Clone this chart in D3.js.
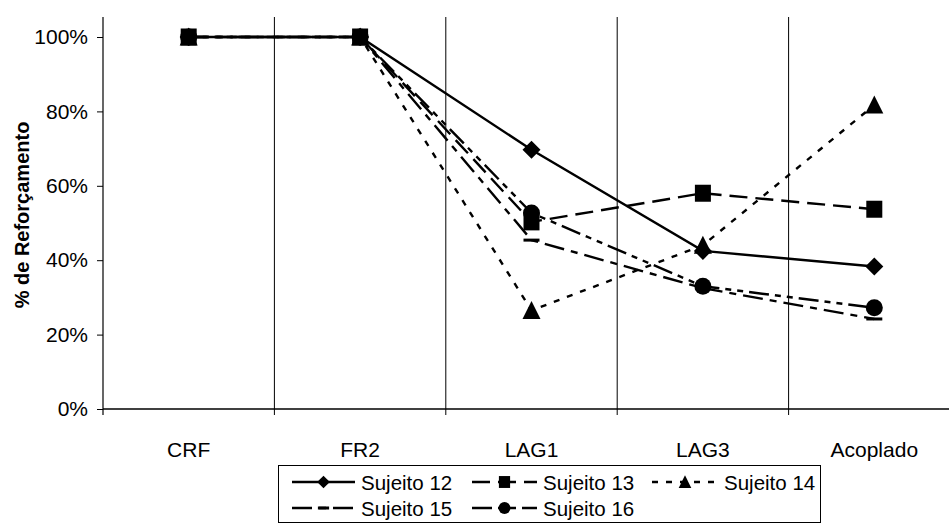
<!DOCTYPE html>
<html>
<head>
<meta charset="utf-8">
<script src="https://cdn.jsdelivr.net/npm/d3@7"></script>
<style>
  body { margin: 0; background: #fff; }
  svg { display: block; font-family: "Liberation Sans", Arial, sans-serif; }
  .tick text { font-size: 21px; fill: #000; }
</style>
</head>
<body>
<svg id="chart" width="949" height="525"></svg>
<script>
const categories = ['CRF', 'FR2', 'LAG1', 'LAG3', 'Acoplado']
const yTicks = [0, 0.2, 0.4, 0.6, 0.8, 1]

// % de reforçamento por sujeito
const sujeito12 = [1.00, 1.00, 0.697, 0.425, 0.383]
const sujeito13 = [1.00, 1.00, 0.503, 0.580, 0.537]
const sujeito14 = [1.00, 1.00, 0.265, 0.440, 0.817]
const sujeito15 = [1.00, 1.00, 0.454, 0.325, 0.242]
const sujeito16 = [1.00, 1.00, 0.527, 0.330, 0.272]

const seriesNames = ['Sujeito 12', 'Sujeito 13', 'Sujeito 14', 'Sujeito 15', 'Sujeito 16']
const seriesValues = [sujeito12, sujeito13, sujeito14, sujeito15, sujeito16]

const styles = [
  { dash: null, marker: 'diamond' },
  { dash: '18,8', marker: 'square' },
  { dash: '6,8', marker: 'triangle' },
  { dash: '20,7,7,7', marker: 'dash' },
  { dash: '20,6,6,6,6,6', marker: 'circle' }
]

const svg = d3.select('#chart')
const plotTop = 17, plotBottom = 409, plotLeft = 103

const x = d3.scaleBand().domain(categories).range([plotLeft, 960])
const y = d3.scaleLinear().domain([0, 1]).range([plotBottom, 37])
const cx = c => x(c) + x.bandwidth() / 2

// vertical separators between categories
svg.selectAll('line.grid')
  .data(categories.slice(1))
  .enter().append('line').classed('grid', true)
  .attr('x1', c => x(c)).attr('x2', c => x(c))
  .attr('y1', plotTop).attr('y2', plotBottom + 6)
  .attr('stroke', '#000').attr('stroke-width', 1)

// y axis
const yAxis = svg.append('g').attr('transform', `translate(${plotLeft},0)`)
  .call(d3.axisLeft(y).tickValues(yTicks).tickFormat(d3.format('.0%')).tickSize(6).tickPadding(9))
yAxis.select('.domain').remove()
yAxis.selectAll('.tick line').attr('stroke', '#000')
svg.append('line').attr('x1', plotLeft).attr('x2', plotLeft).attr('y1', plotTop).attr('y2', plotBottom + 6)
  .attr('stroke', '#000').attr('stroke-width', 1.2)

// x axis
svg.append('line').attr('x1', plotLeft).attr('x2', 949).attr('y1', plotBottom).attr('y2', plotBottom)
  .attr('stroke', '#000').attr('stroke-width', 1.6)
svg.selectAll('text.xlab')
  .data(categories)
  .enter().append('text').classed('xlab', true)
  .attr('x', cx).attr('y', 449)
  .attr('text-anchor', 'middle').attr('dominant-baseline', 'central')
  .attr('font-size', 21)
  .text(c => c)

// y title
svg.append('text')
  .attr('transform', 'translate(22,215) rotate(-90)')
  .attr('text-anchor', 'middle').attr('dominant-baseline', 'central')
  .attr('font-size', 20).attr('font-weight', 'bold')
  .text('% de Reforçamento')

function drawMarker (g, type, px, py, k) {
  if (type === 'diamond') {
    const r = 9 * k
    g.append('path').attr('d', `M${px},${py - r}L${px + r},${py}L${px},${py + r}L${px - r},${py}Z`)
  } else if (type === 'square') {
    g.append('rect').attr('x', px - 8 * k).attr('y', py - 8.5 * k).attr('width', 16 * k).attr('height', 17 * k)
  } else if (type === 'triangle') {
    g.append('path').attr('d', `M${px},${py - 9.5 * k}L${px + 9 * k},${py + 8.5 * k}L${px - 9 * k},${py + 8.5 * k}Z`)
  } else if (type === 'circle') {
    g.append('circle').attr('cx', px).attr('cy', py).attr('r', 8.5 * k)
  } else if (type === 'dash') {
    g.append('rect').attr('x', px - 8 * k).attr('y', py - 1.5).attr('width', 16 * k).attr('height', 3)
  }
}

const line = d3.line().x((d, i) => cx(categories[i])).y(d => y(d))

seriesValues.forEach((vals, s) => {
  const g = svg.append('g')
  g.append('path').datum(vals)
    .attr('d', line)
    .attr('fill', 'none').attr('stroke', '#000').attr('stroke-width', 2.4)
    .attr('stroke-dasharray', styles[s].dash)
  const mg = g.append('g').attr('fill', '#000')
  vals.forEach((v, i) => drawMarker(mg, styles[s].marker, cx(categories[i]), y(v), 1))
})

// legend
svg.append('rect').attr('x', 278.5).attr('y', 465.5).attr('width', 542).attr('height', 57)
  .attr('fill', '#fff').attr('stroke', '#000').attr('stroke-width', 1)

const legendPos = [
  { lx: 292, tx: 361, ly: 482 },
  { lx: 472, tx: 543, ly: 482 },
  { lx: 652, tx: 724, ly: 482 },
  { lx: 292, tx: 361, ly: 508 },
  { lx: 472, tx: 543, ly: 508 }
]
seriesNames.forEach((name, s) => {
  const p = legendPos[s]
  const g = svg.append('g')
  g.append('line').attr('x1', p.lx).attr('x2', p.tx - 6).attr('y1', p.ly).attr('y2', p.ly)
    .attr('stroke', '#000').attr('stroke-width', 2.4)
    .attr('stroke-dasharray', styles[s].dash)
  const mg = g.append('g').attr('fill', '#000')
  drawMarker(mg, styles[s].marker, (p.lx + p.tx - 6) / 2, p.ly, 0.7)
  g.append('text').attr('x', p.tx).attr('y', p.ly)
    .attr('dominant-baseline', 'central').attr('font-size', 20.5)
    .text(name)
})
</script>
</body>
</html>
